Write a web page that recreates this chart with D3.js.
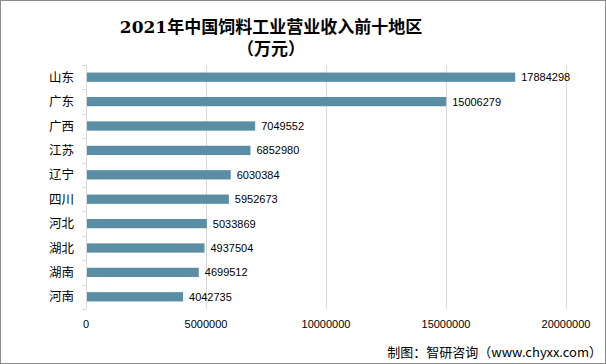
<!DOCTYPE html>
<html><head><meta charset="utf-8">
<script src="https://cdn.jsdelivr.net/npm/d3@7"></script>
<style>body{margin:0;background:#fff}svg{display:block}</style>
</head><body>
<script>
const categories = ["山东","广东","广西","江苏","辽宁","四川","河北","湖北","湖南","河南"];
const values = [17884298,15006279,7049552,6852980,6030384,5952673,5033869,4937504,4699512,4042735];
const xTicks = [0,5000000,10000000,15000000,20000000];
const titleLines = ["2021年中国饲料工业营业收入前十地区","（万元）"];
const footer = "制图：智研咨询（www.chyxx.com）";

const W=606,H=364;
const svg=d3.select("body").append("svg").attr("width",W).attr("height",H);
svg.append("rect").attr("x",0.5).attr("y",0.5).attr("width",W-1).attr("height",H-1).attr("fill","#fff").attr("stroke","#8c8c8c");

const x=d3.scaleLinear().domain([0,20000000]).range([86,566]);
const y=d3.scaleBand().domain(categories).range([65,309]).paddingInner(0.62).paddingOuter(0.31);

// gridlines
svg.append("g").selectAll("line").data(xTicks.slice(1)).join("line")
  .attr("x1",d=>x(d)+0.5).attr("x2",d=>x(d)+0.5).attr("y1",65).attr("y2",309)
  .attr("stroke","#d9d9d9");

// category axis line & ticks
const step=(309-65)/categories.length;
svg.append("line").attr("x1",86.5).attr("x2",86.5).attr("y1",65).attr("y2",309).attr("stroke","#d9d9d9");
svg.append("g").selectAll("line").data(d3.range(categories.length+1)).join("line")
  .attr("x1",82).attr("x2",86).attr("y1",i=>Math.round(65+i*step)+0.5).attr("y2",i=>Math.round(65+i*step)+0.5)
  .attr("stroke","#d9d9d9");

// bars
svg.append("g").selectAll("rect").data(values).join("rect")
  .attr("x",x(0)+1).attr("y",(d,i)=>y(categories[i]))
  .attr("width",d=>x(d)-x(0)-1).attr("height",y.bandwidth())
  .attr("fill","#5a8ea5");

// value labels
svg.append("g").selectAll("text").data(values).join("text")
  .attr("x",d=>x(d)+6).attr("y",(d,i)=>y(categories[i])+y.bandwidth()/2)
  .attr("dy","0.36em").attr("font-family","'Liberation Sans', sans-serif").attr("font-size",11)
  .attr("fill","#000").text(d=>d);

// category labels
svg.append("g").selectAll("text").data(categories).join("text")
  .attr("x",74).attr("y",d=>y(d)+y.bandwidth()/2).attr("dy","0.36em")
  .attr("text-anchor","end").attr("font-family","'Noto Sans CJK SC', sans-serif").attr("font-size",12.5)
  .attr("fill","#000").text(d=>d);

// x tick labels
svg.append("g").selectAll("text").data(xTicks).join("text")
  .attr("x",d=>x(d)).attr("y",328).attr("text-anchor","middle")
  .attr("font-family","'Liberation Sans', sans-serif").attr("font-size",11).attr("fill","#000").text(d=>d);

// title
svg.append("g").selectAll("text").data(titleLines).join("text")
  .attr("x",271).attr("y",(d,i)=>33+i*22).attr("text-anchor","middle")
  .attr("font-family","'DejaVu Serif','Noto Sans CJK SC', serif").attr("font-weight","bold").attr("font-size",17)
  .attr("fill","#000").text(d=>d);

// footer
svg.append("text").attr("x",602).attr("y",357).attr("text-anchor","end")
  .attr("font-family","'Noto Sans CJK SC', sans-serif").attr("font-size",13).attr("fill","#000").text(footer);
</script>
</body></html>
